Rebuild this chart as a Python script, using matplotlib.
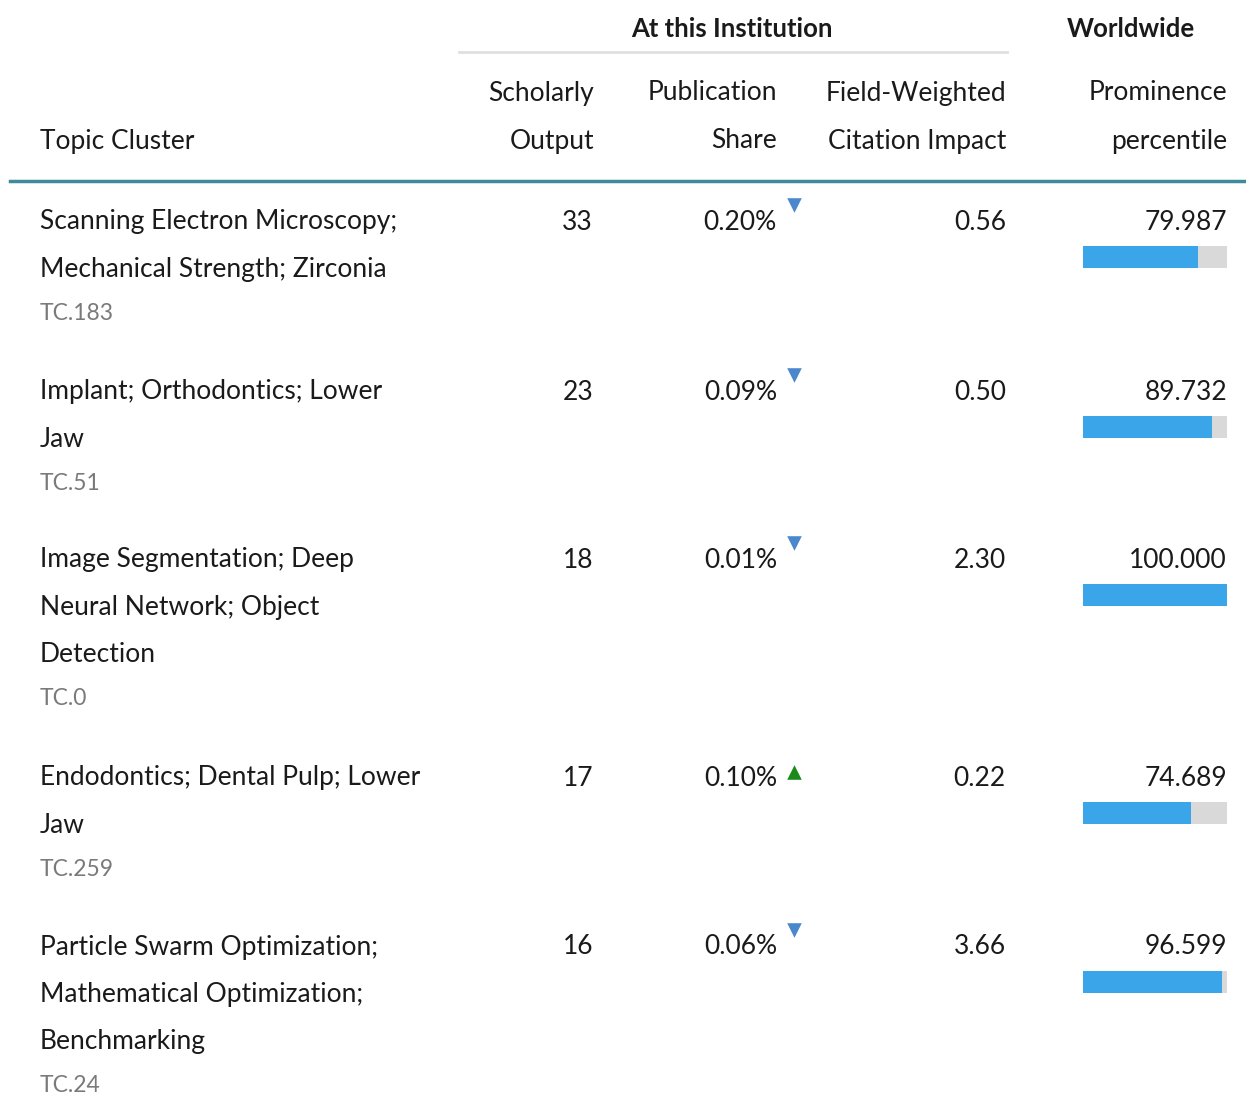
import matplotlib.pyplot as plt

# data
topics = [
    "Scanning Electron Microscopy;\nMechanical Strength; Zirconia",
    "Implant; Orthodontics; Lower\nJaw",
    "Image Segmentation; Deep\nNeural Network; Object\nDetection",
    "Endodontics; Dental Pulp; Lower\nJaw",
    "Particle Swarm Optimization;\nMathematical Optimization;\nBenchmarking",
]
codes = ["TC.183", "TC.51", "TC.0", "TC.259", "TC.24"]
output = [33, 23, 18, 17, 16]
share = [0.20, 0.09, 0.01, 0.10, 0.06]
share_trend = ["down", "down", "down", "up", "down"]
fwci = [0.56, 0.50, 2.30, 0.22, 3.66]
prominence = [79.987, 89.732, 100.000, 74.689, 96.599]

plt.rcParams['font.family'] = ['Lato', 'DejaVu Sans']

fig = plt.figure(figsize=(12.46, 10.94), dpi=100)
ax = fig.add_axes([0, 0, 1, 1])
ax.set_xlim(0, 1246)
ax.set_ylim(1094, 0)
ax.axis('off')

fs = 19
dark = '#1a1a1a'
dy = 2  # text baseline nudge

# header
ax.text(732, 27 + dy, "At this Institution", ha='center', va='center', fontsize=18.5, fontweight='bold', color=dark)
ax.text(1131, 27 + dy, "Worldwide", ha='center', va='center', fontsize=18.5, fontweight='bold', color=dark)
ax.plot([459, 1007], [52, 52], color='#e0e0e0', lw=2)
ax.text(40, 139 + dy, "Topic Cluster", ha='left', va='center', fontsize=fs, color=dark)
heads = [("Scholarly", "Output", 594), ("Publication", "Share", 777),
         ("Field-Weighted", "Citation Impact", 1006), ("Prominence", "percentile", 1227)]
for h1, h2, x in heads:
    ax.text(x, 91 + dy, h1, ha='right', va='center', fontsize=fs, color=dark)
    ax.text(x, 139 + dy, h2, ha='right', va='center', fontsize=fs, color=dark)
ax.plot([10, 1246], [181, 181], color='#3d8b9b', lw=2.5)

# rows
row_y = [220, 390, 558, 776, 945]
line_h = 47.5
for i, y in enumerate(row_y):
    lines = topics[i].split("\n")
    for j, ln in enumerate(lines):
        ax.text(40, y + dy + j * line_h, ln, ha='left', va='center', fontsize=fs, color=dark)
    # grey code line, baseline-anchored so it stays inside the figure
    ax.text(40, y + (len(lines) - 1) * line_h + 52, codes[i], ha='left', va='baseline',
            fontsize=16.5, color='#7a7a7a')
    ax.text(593, y + dy, str(output[i]), ha='right', va='center', fontsize=fs, color=dark)
    ax.text(777, y + dy, f"{share[i]:.2f}%", ha='right', va='center', fontsize=fs, color=dark)
    ax.text(1006, y + dy, f"{fwci[i]:.2f}", ha='right', va='center', fontsize=fs, color=dark)
    ax.text(1227, y + dy, f"{prominence[i]:.3f}", ha='right', va='center', fontsize=fs, color=dark)

# trend markers
for i, y in enumerate(row_y):
    if share_trend[i] == "down":
        ax.scatter(794, y - 15, marker='v', s=110, color='#4a87cc', linewidths=0)
    else:
        ax.scatter(794, y - 4, marker='^', s=110, color='#1a8a1a', linewidths=0)

# prominence bars
bar_y = [y + 37 for y in row_y]
ax.barh(bar_y, [144] * 5, left=1083, height=22, color='#d9d9d9')
ax.barh(bar_y, [p / 100 * 144 for p in prominence], left=1083, height=22, color='#3aa5e8')

fig.savefig("out.png", dpi=100)
